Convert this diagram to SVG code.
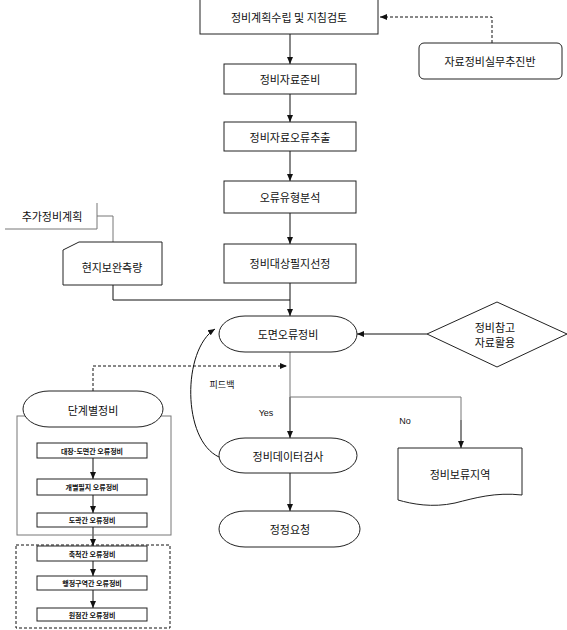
<svg xmlns="http://www.w3.org/2000/svg" width="567" height="630" viewBox="0 0 567 630">
<style>
  .box{fill:#fff;stroke:#222;stroke-width:1}
  .t{font-family:"Noto Sans CJK KR","Liberation Sans",sans-serif;font-size:11px;fill:#111;text-anchor:middle;dominant-baseline:central}
  .s{font-family:"Noto Sans CJK KR","Liberation Sans",sans-serif;font-size:7px;font-weight:bold;fill:#111;text-anchor:middle;dominant-baseline:central}
  .l{font-family:"Liberation Sans","Noto Sans CJK KR",sans-serif;font-size:9px;fill:#111;text-anchor:middle;dominant-baseline:central}
  .c{fill:none;stroke:#111;stroke-width:1}
  .g{fill:none;stroke:#777;stroke-width:1}
  .d{fill:none;stroke:#111;stroke-width:1;stroke-dasharray:3,2}
</style>
<defs>
  <marker id="ah" markerWidth="8" markerHeight="8" refX="7" refY="4" orient="auto" markerUnits="userSpaceOnUse">
    <path d="M0,1 L7,4 L0,7 Z" fill="#111"/>
  </marker>
</defs>

<g id="connectors">
  <line class="c" x1="290" y1="34" x2="290" y2="64" marker-end="url(#ah)"/>
  <line class="c" x1="290" y1="94" x2="290" y2="122" marker-end="url(#ah)"/>
  <line class="c" x1="290" y1="151" x2="290" y2="181" marker-end="url(#ah)"/>
  <line class="c" x1="290" y1="213" x2="290" y2="244" marker-end="url(#ah)"/>
  <line class="c" x1="290" y1="283" x2="290" y2="316" marker-end="url(#ah)"/>
  <polyline class="c" points="492,43 492,17 380,17" stroke-dasharray="3,2" marker-end="url(#ah)"/>
  <polyline class="g" points="5,229 97,229 97,203"/>
  <polyline class="g" points="97,216 113,216 113,242"/>
  <polyline class="c" points="113,285 113,300 290,300"/>
  <line class="c" x1="427" y1="334" x2="357" y2="334" marker-end="url(#ah)"/>
  <line class="g" x1="290" y1="352" x2="290" y2="397"/>
  <line class="c" x1="290" y1="397" x2="290" y2="438" marker-end="url(#ah)"/>
  <polyline class="g" points="290,397 461,397 461,420"/>
  <line class="c" x1="461" y1="420" x2="461" y2="448" marker-end="url(#ah)"/>
  <line class="c" x1="290" y1="473" x2="290" y2="511" marker-end="url(#ah)"/>
  <polyline class="d" points="93,391 93,366 287,366" marker-end="url(#ah)"/>
  <path class="c" d="M219,457 C182,440 182,350 215,329" marker-end="url(#ah)"/>
  <line class="c" x1="93" y1="458" x2="93" y2="479" marker-end="url(#ah)"/>
  <line class="c" x1="93" y1="495" x2="93" y2="513" marker-end="url(#ah)"/>
  <line class="c" x1="93" y1="527" x2="93" y2="546" marker-end="url(#ah)"/>
  <line class="c" x1="93" y1="561" x2="93" y2="576" marker-end="url(#ah)"/>
  <line class="c" x1="93" y1="590" x2="93" y2="608" marker-end="url(#ah)"/>
</g>

<g id="n1"><rect class="box" x="200" y="-1" width="178" height="35"/><text class="t" x="289" y="17">정비계획수립 및 지침검토</text></g>
<g id="n2"><rect class="box" x="224" y="64" width="132" height="30"/><text class="t" x="290" y="79">정비자료준비</text></g>
<g id="n3"><rect class="box" x="224" y="122" width="132" height="29"/><text class="t" x="290" y="137">정비자료오류추출</text></g>
<g id="n4"><rect class="box" x="224" y="181" width="132" height="32"/><text class="t" x="290" y="197">오류유형분석</text></g>
<g id="n5"><rect class="box" x="224" y="244" width="132" height="39"/><text class="t" x="290" y="263">정비대상필지선정</text></g>
<g id="n6"><rect class="box" x="419" y="43" width="143" height="36" rx="5"/><text class="t" x="490" y="61">자료정비실무추진반</text></g>
<g id="n7"><text class="t" x="52" y="216">추가정비계획</text></g>
<g id="n8"><polygon class="box" points="63,250 79,242 162,242 162,285 63,285"/><text class="t" x="112" y="267">현지보완측량</text></g>
<g id="n9"><rect class="box" x="219" y="316" width="138" height="36" rx="26" ry="18"/><text class="t" x="288" y="334">도면오류정비</text></g>
<g id="n10"><polygon class="box" points="427,334 497,302 567,334 497,367"/><text class="t" x="495" y="327">정비참고</text><text class="t" x="495" y="342">자료활용</text></g>
<g id="n11"><rect class="box" x="219" y="438" width="138" height="35" rx="26" ry="17.5"/><text class="t" x="288" y="456">정비데이터검사</text></g>
<g id="n12"><rect class="box" x="219" y="511" width="141" height="36" rx="26" ry="18"/><text class="t" x="290" y="529">정정요청</text></g>
<g id="n13"><path class="box" d="M398,448 H522 V495 C495,492 475,498 455,503 C432,508 412,504 398,500 Z"/><text class="t" x="460" y="474">정비보류지역</text></g>
<g id="labels">
  <text class="l" x="222" y="385">피드백</text>
  <text class="l" x="266" y="413">Yes</text>
  <text class="l" x="405" y="421">No</text>
</g>
<g id="n14">
  <rect x="17" y="416" width="154" height="119" fill="none" stroke="#777" stroke-width="1"/>
  <rect class="box" x="23" y="391" width="140" height="36" rx="26" ry="18"/>
  <text class="t" x="93" y="410">단계별정비</text>
</g>
<g id="n15"><rect class="box" x="37" y="443" width="110" height="15"/><text class="s" x="92" y="450.5">대장-도면간 오류정비</text></g>
<g id="n16"><rect class="box" x="37" y="479" width="110" height="16"/><text class="s" x="92" y="487">개별필지 오류정비</text></g>
<g id="n17"><rect class="box" x="37" y="513" width="110" height="14"/><text class="s" x="92" y="520">도곽간 오류정비</text></g>
<g id="n18">
  <rect x="16" y="545" width="154" height="83" fill="none" stroke="#111" stroke-width="1" stroke-dasharray="3,2"/>
</g>
<g id="n19"><rect class="box" x="37" y="546" width="110" height="15"/><text class="s" x="92" y="553.5">축척간 오류정비</text></g>
<g id="n20"><rect class="box" x="37" y="576" width="110" height="14"/><text class="s" x="92" y="583">행정구역간 오류정비</text></g>
<g id="n21"><rect class="box" x="37" y="608" width="110" height="13"/><text class="s" x="92" y="614.5">원점간 오류정비</text></g>
</svg>
